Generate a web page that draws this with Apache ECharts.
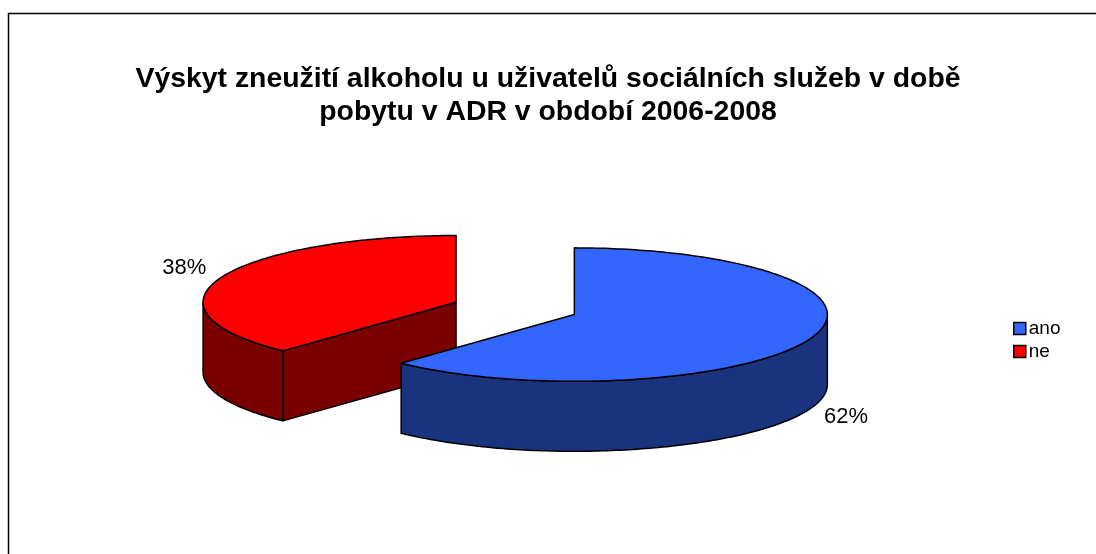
<!DOCTYPE html>
<html>
<head>
<meta charset="utf-8">
<script src="https://cdn.jsdelivr.net/npm/echarts@6/dist/echarts.min.js"></script>
<style>
  html, body { margin: 0; padding: 0; background: #fff; }
  #chart { width: 1096px; height: 554px; }
</style>
</head>
<body>
<div id="chart"></div>
<script>
const categories = ['ano', 'ne'];
const shares = [62, 38];
const topColors = ['#3366FF', '#FF0000'];
const sideColors = ['#1A337F', '#7A0000'];
const titleLines = ['Výskyt zneužití alkoholu u uživatelů sociálních služeb v době', 'pobytu v ADR v období 2006-2008'];

const chart = echarts.init(document.getElementById('chart'));

const total = shares.reduce((a, b) => a + b, 0);
// pie geometry (3D look: ellipse + side walls)
const PIE = { cx: 515.2, cy: 308.4, rx: 253, ry: 66.7, depth: 70, explode: 0.2514 };

function pt(cx, cy, a, dy) {
    return [cx + PIE.rx * Math.sin(a), cy - PIE.ry * Math.cos(a) + (dy || 0)];
}

function arc(cx, cy, a0, a1, dy) {
    const pts = [];
    const n = Math.max(2, Math.ceil(Math.abs(a1 - a0) / (Math.PI / 180)));
    for (let k = 0; k <= n; k++) pts.push(pt(cx, cy, a0 + (a1 - a0) * k / n, dy));
    return pts;
}

function makeRender(i) {
    return function (params, api) {
        const v = api.value(0);
        let before = 0;
        for (let j = 0; j < i; j++) before += shares[j];
        const a0 = before / total * Math.PI * 2;
        const a1 = (before + v) / total * Math.PI * 2;
        const mid = (a0 + a1) / 2;
        const cx = PIE.cx + PIE.explode * PIE.rx * Math.sin(mid);
        const cy = PIE.cy - PIE.explode * PIE.ry * Math.cos(mid);
        const d = PIE.depth;
        const stroke = { stroke: '#000', lineWidth: 1.5, lineJoin: 'round' };
        const children = [];

        // radial walls
        if (Math.sin(a0) < -1e-6) {
            const p = pt(cx, cy, a0);
            children.push({ type: 'polygon', shape: { points: [[cx, cy], p, [p[0], p[1] + d], [cx, cy + d]] },
                style: Object.assign({ fill: sideColors[i] }, stroke) });
        }
        if (Math.sin(a1) > 1e-6) {
            const p = pt(cx, cy, a1);
            children.push({ type: 'polygon', shape: { points: [[cx, cy], p, [p[0], p[1] + d], [cx, cy + d]] },
                style: Object.assign({ fill: sideColors[i] }, stroke) });
        }
        // outer wall, front half only
        const s = Math.max(a0, Math.PI / 2), e = Math.min(a1, Math.PI * 1.5);
        if (e > s) {
            const pts = arc(cx, cy, s, e, 0).concat(arc(cx, cy, e, s, d));
            children.push({ type: 'polygon', shape: { points: pts },
                style: Object.assign({ fill: sideColors[i] }, stroke) });
        }
        // top face
        children.push({ type: 'polygon', shape: { points: [[cx, cy]].concat(arc(cx, cy, a0, a1, 0)) },
            style: Object.assign({ fill: topColors[i] }, stroke) });

        // percentage label
        const front = Math.cos(mid) < 0;
        const lx = cx + PIE.rx * Math.sin(mid) * 1.155;
        const ly = cy - PIE.ry * Math.cos(mid) + (front ? d + 8 : -10);
        children.push({ type: 'text', style: {
            x: lx, y: ly, text: Math.round(v / total * 100) + '%',
            fill: '#000', font: '22px "Liberation Sans", Arial, sans-serif',
            align: 'center', verticalAlign: 'middle' } });

        return { type: 'group', children };
    };
}

const drawOrder = [1, 0];

chart.setOption({
    backgroundColor: '#fff',
    animation: false,
    title: {
        text: titleLines.join('\n'),
        left: 'center', top: 58,
        textStyle: { fontFamily: '"Liberation Sans", Arial, sans-serif', fontSize: 28.4, fontWeight: 'bold', color: '#000', lineHeight: 33 }
    },
    legend: {
        data: categories,
        orient: 'vertical', left: 1008, top: 314,
        icon: 'rect', itemWidth: 12, itemHeight: 12, itemGap: 4,
        itemStyle: { borderColor: '#000', borderWidth: 1.5 },
        textStyle: { fontFamily: '"Liberation Sans", Arial, sans-serif', fontSize: 19, color: '#000', padding: [0, 0, 0, -2] }
    },
    graphic: [{
        type: 'rect', shape: { x: 8.5, y: 13.5, width: 1200, height: 700 },
        style: { fill: 'none', stroke: '#000', lineWidth: 1.5 }, silent: true
    }],
    series: drawOrder.map(i => ({
        type: 'custom',
        name: categories[i],
        coordinateSystem: 'none',
        itemStyle: { color: topColors[i] },
        renderItem: makeRender(i),
        data: [[shares[i]]]
    }))
});
</script>
</body>
</html>
